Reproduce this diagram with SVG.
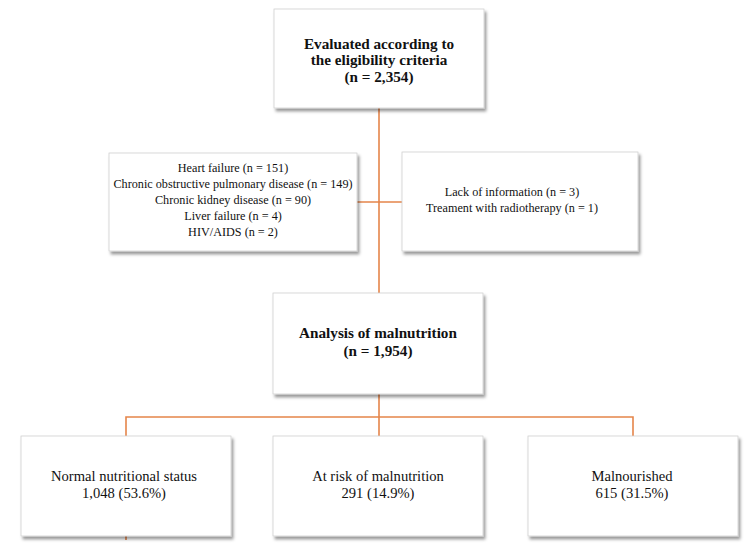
<svg xmlns="http://www.w3.org/2000/svg" width="749" height="548" viewBox="0 0 749 548">
<defs>
<filter id="sh" x="-10%" y="-10%" width="120%" height="130%">
<feDropShadow dx="2" dy="3" stdDeviation="1.5" flood-color="#000" flood-opacity="0.4"/>
</filter>
<style>
.box{fill:#fff;stroke:#d0d0d0;stroke-width:0.8;filter:url(#sh)}
.c{stroke:#E5854A;stroke-width:1.6;fill:none}
text{font-family:"Liberation Serif","Times New Roman",serif;fill:#111;text-anchor:middle}
.b{font-weight:bold;font-size:15.2px}
.s{font-size:12.2px}
.m{font-size:14.6px}
</style>
</defs>
<rect width="749" height="548" fill="#fff"/>
<g id="connectors">
<line class="c" x1="379" y1="108" x2="379" y2="293"/>
<line class="c" x1="357" y1="202" x2="402" y2="202"/>
<line class="c" x1="379" y1="394" x2="379" y2="436"/>
<polyline class="c" points="126,540 126,417 633,417 633,436"/>
</g>
<g id="eligibility">
<rect class="box" x="274" y="9" width="210" height="99"/>
<text class="b" x="379" y="49">Evaluated according to</text>
<text class="b" x="379" y="65">the eligibility criteria</text>
<text class="b" x="379" y="82">(n = 2,354)</text>
</g>
<g id="excluded-diseases">
<rect class="box" x="109" y="153" width="248" height="98"/>
<text class="s" x="233" y="172">Heart failure (n = 151)</text>
<text class="s" x="233" y="188">Chronic obstructive pulmonary disease (n = 149)</text>
<text class="s" x="233" y="204">Chronic kidney disease  (n = 90)</text>
<text class="s" x="233" y="220">Liver failure (n = 4)</text>
<text class="s" x="233" y="236">HIV/AIDS (n = 2)</text>
</g>
<g id="excluded-other">
<rect class="box" x="402" y="152" width="236" height="99"/>
<text class="s" x="512" y="196">Lack of information (n = 3)</text>
<text class="s" x="512" y="212">Treament with radiotherapy (n = 1)</text>
</g>
<g id="analysis">
<rect class="box" x="273" y="293" width="210" height="101"/>
<text class="b" x="378" y="338">Analysis of malnutrition</text>
<text class="b" x="378" y="356">(n = 1,954)</text>
</g>
<g id="normal">
<rect class="box" x="21" y="436" width="210" height="100"/>
<text class="m" x="124" y="481">Normal nutritional status</text>
<text class="m" x="124" y="498">1,048 (53.6%)</text>
</g>
<g id="risk">
<rect class="box" x="273" y="436" width="210" height="100"/>
<text class="m" x="378" y="481">At risk of malnutrition</text>
<text class="m" x="378" y="498">291 (14.9%)</text>
</g>
<g id="malnourished">
<rect class="box" x="528" y="436" width="210" height="100"/>
<text class="m" x="632" y="481">Malnourished</text>
<text class="m" x="632" y="498">615 (31.5%)</text>
</g>
</svg>
